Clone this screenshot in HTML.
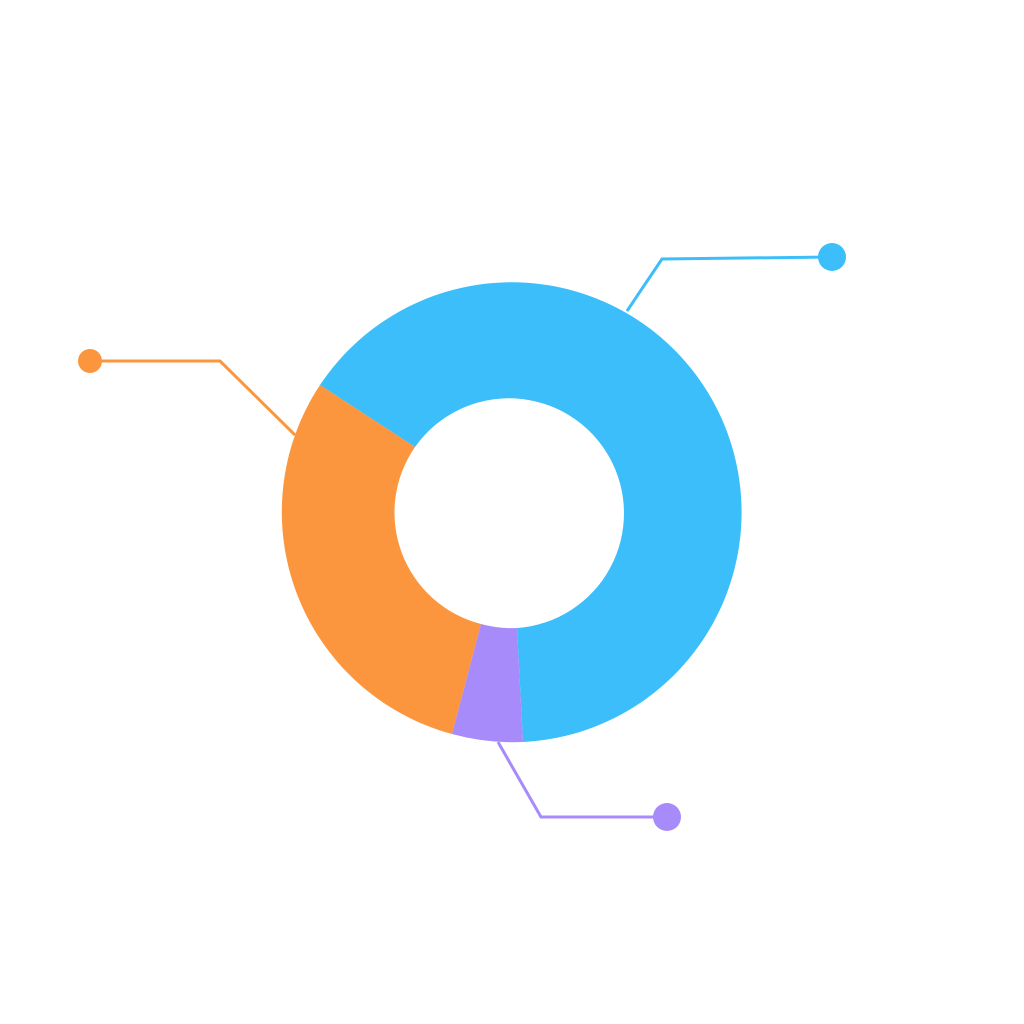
<!DOCTYPE html>
<html><head><style>html,body{margin:0;background:#fff;width:1024px;height:1024px;overflow:hidden}</style></head>
<body>
<svg width="1024" height="1024" viewBox="0 0 1024 1024" xmlns="http://www.w3.org/2000/svg">
<path d="M320,385 A230,230 0 1 1 523,742 L517,628 A115,115 0 1 0 415,447 Z" fill="#3bbef9"/>
<path d="M452,734 A230,230 0 0 1 320,385 L415,447 A115,115 0 0 0 481,624 Z" fill="#fb963e"/>
<path d="M523,742 A230,230 0 0 1 452,734 L481,624 A115,115 0 0 0 517,628 Z" fill="#a78bfa"/>
<polyline points="627,311 662,259 832,257" fill="none" stroke="#3bbef9" stroke-width="3"/>
<circle cx="832" cy="257" r="14" fill="#3bbef9"/>
<polyline points="295,435 220,361 90,361" fill="none" stroke="#fb963e" stroke-width="3"/>
<circle cx="90" cy="361" r="12" fill="#fb963e"/>
<polyline points="498,742 541,817 667,817" fill="none" stroke="#a78bfa" stroke-width="3"/>
<circle cx="667" cy="817" r="14" fill="#a78bfa"/>
<g font-family="Liberation Sans, sans-serif" font-size="24" fill="#fff">
<text x="715" y="228">IDO</text>
<text x="96" y="327">Airdrop</text>
<text x="580" y="788">LP</text>
</g>
</svg>
</body></html>
